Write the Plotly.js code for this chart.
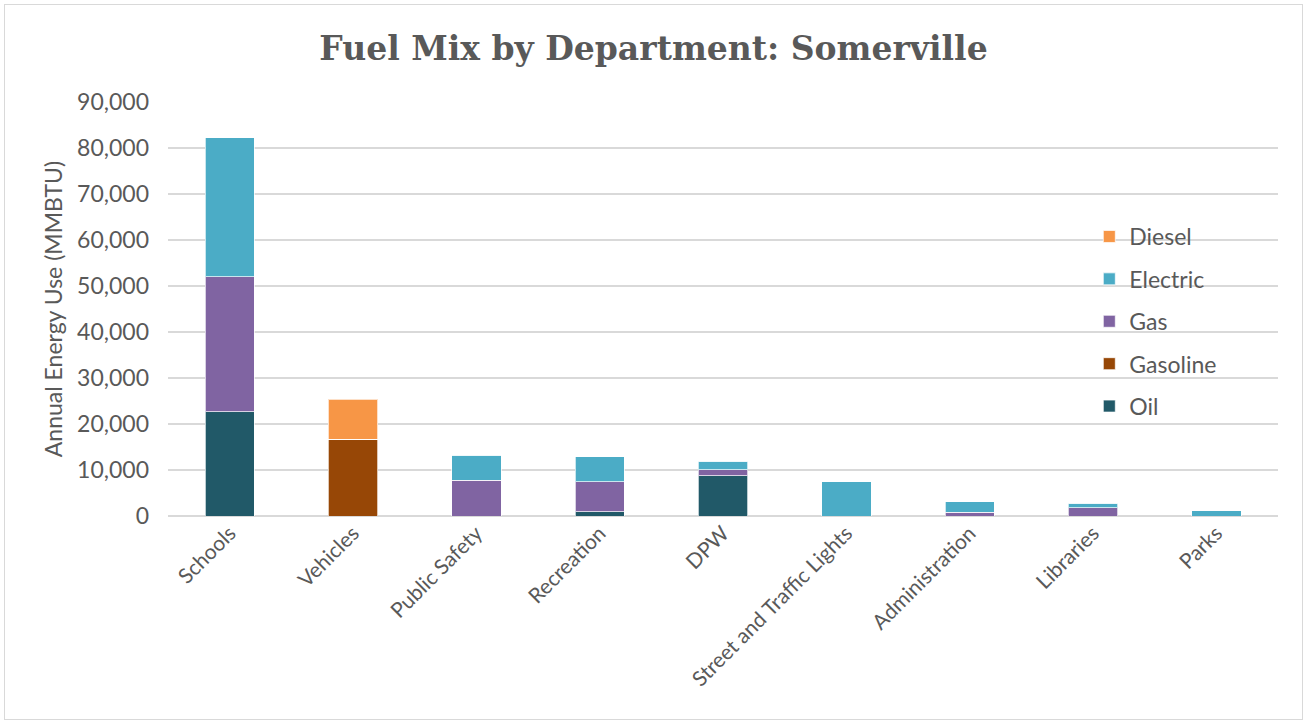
<!DOCTYPE html>
<html>
<head>
<meta charset="utf-8">
<script src="https://cdn.plot.ly/plotly-3.0.1.min.js"></script>
<style>
  body { margin: 0; background: #fff; }
  #wrap { position: relative; width: 1307px; height: 725px; }
  #frame { position: absolute; left: 4px; top: 4px; width: 1297px; height: 714px; border: 1px solid #d9d9d9; pointer-events: none; }
</style>
</head>
<body>
<div id="wrap">
  <div id="chart" style="width:1307px;height:725px;"></div>
  <div id="frame"></div>
</div>
<script>
var departments = ['Schools', 'Vehicles', 'Public Safety', 'Recreation', 'DPW',
  'Street and Traffic Lights', 'Administration', 'Libraries', 'Parks'];

// MMBTU per fuel
var oil      = [22700, 0, 0, 900, 8750, 0, 0, 0, 0];
var gasoline = [0, 16700, 0, 0, 0, 0, 0, 0, 0];
var gas      = [29300, 0, 7800, 6550, 1300, 0, 800, 1800, 0];
var electric = [30200, 0, 5400, 5400, 1900, 7500, 2250, 950, 1150];
var diesel   = [0, 8700, 0, 0, 0, 0, 0, 0, 0];

function bar(name, vals, color, rank) {
  return {
    type: 'bar',
    name: name,
    legendgroup: name,
    legendrank: rank,
    x: departments,
    y: vals,
    marker: {color: color, line: {color: 'rgba(255,255,255,0.7)', width: 1}},
    hoverinfo: 'name+y'
  };
}

var data = [
  bar('Oil', oil, '#215968', 5),
  bar('Gasoline', gasoline, '#974706', 4),
  bar('Gas', gas, '#8064A2', 3),
  bar('Electric', electric, '#4BACC6', 2),
  bar('Diesel', diesel, '#F79646', 1)
];

var txt = '#595959';
var layout = {
  width: 1307,
  height: 725,
  margin: {l: 168, r: 29, t: 102, b: 209},
  paper_bgcolor: 'rgba(0,0,0,0)',
  plot_bgcolor: '#fff',
  barmode: 'stack',
  bargap: 0.6,
  font: {family: 'Lato, sans-serif', color: txt},
  title: {
    text: '<b>Fuel Mix by Department: Somerville</b>',
    font: {family: 'DejaVu Serif, serif', size: 33, color: txt},
    x: 0.5, xanchor: 'center', y: 0.933, yanchor: 'middle'
  },
  xaxis: {
    tickangle: -45,
    tickfont: {size: 21, color: txt},
    showgrid: false,
    ticks: '',
    showline: false
  },
  yaxis: {
    range: [0, 90000],
    dtick: 10000,
    tickformat: ',d',
    tickfont: {size: 23, color: txt},
    ticklabelstandoff: 18,
    gridcolor: '#d9d9d9',
    gridwidth: 1.5,
    zeroline: true,
    zerolinecolor: '#d9d9d9',
    zerolinewidth: 2,
    ticks: '',
    ticklen: 0,
    title: {text: 'Annual Energy Use (MMBTU)', font: {size: 23, color: txt}, standoff: 8}
  },
  legend: {
    x: 0.83, y: 0.727, xanchor: 'left', yanchor: 'top',
    traceorder: 'grouped',
    tracegroupgap: 9.5,
    font: {size: 23, color: txt},
    bgcolor: 'rgba(255,255,255,0)'
  },
  showlegend: true
};

Plotly.newPlot('chart', data, layout, {displayModeBar: false});
</script>
</body>
</html>
